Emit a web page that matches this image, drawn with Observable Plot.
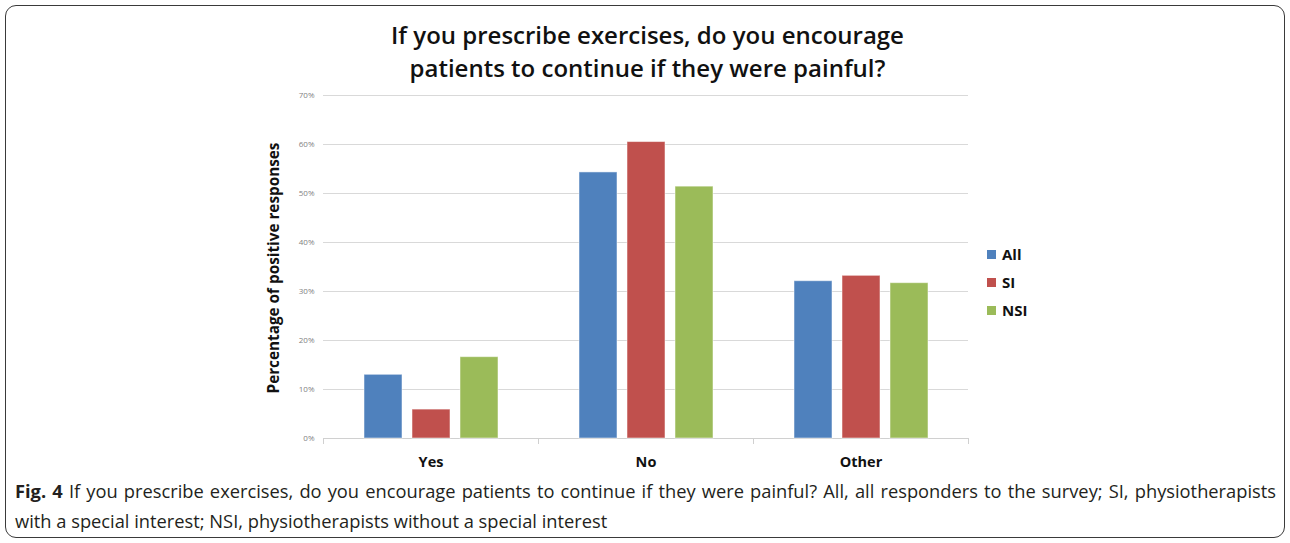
<!DOCTYPE html>
<html>
<head>
<meta charset="utf-8">
<script src="https://cdn.jsdelivr.net/npm/d3@7"></script>
<script src="https://cdn.jsdelivr.net/npm/@observablehq/plot@0.6"></script>
<style>
  html, body { margin: 0; padding: 0; background: #fff; width: 1290px; height: 543px; overflow: hidden; }
  #frame { position: absolute; left: 5px; top: 5px; width: 1278px; height: 531px; border: 1.5px solid #3a3a3a; border-radius: 11px; }
  #title { position: absolute; left: 0; width: 1295px; top: 18px; text-align: center; font-family: "Open Sans", sans-serif; font-weight: 600; font-size: 24px; line-height: 33px; color: #111; }
  #chart { position: absolute; left: 0; top: 85px; }
  #ylabel { position: absolute; left: 273px; top: 268px; transform: translate(-50%, -50%) rotate(-90deg); white-space: nowrap; font-family: "Open Sans", sans-serif; font-weight: 700; font-size: 15.3px; color: #111; }
  #legend { position: absolute; left: 987px; top: 240px; font-family: "Open Sans", sans-serif; font-weight: 700; font-size: 15px; color: #111; }
  .li { height: 28px; display: flex; align-items: center; line-height: 20px; }
  .li .sw { width: 9px; height: 9px; margin-right: 6px; }
  #caption { position: absolute; left: 15px; top: 476px; width: 1261px; font-family: "Open Sans", sans-serif; font-size: 18.3px; line-height: 30px; color: #231f20; }
  #cap1 { text-align: justify; text-align-last: justify; white-space: nowrap; }
</style>
</head>
<body>
<div id="frame"></div>
<div id="title"></div>
<div id="ylabel"></div>
<div id="chart"></div>
<div id="legend"></div>
<div id="caption"><div id="cap1"></div><div id="cap2"></div></div>
<script>
const titleLines = ["If you prescribe exercises, do you encourage", "patients to continue if they were painful?"];
const yLabel = "Percentage of positive responses";
const categories = ["Yes", "No", "Other"];
const series = ["All", "SI", "NSI"];
const colors = ["#4f81bd", "#c0504d", "#9bbb59"];
const valuesAll = [13.0, 54.3, 32.1];
const valuesSI = [5.9, 60.5, 33.2];
const valuesNSI = [16.6, 51.4, 31.7];
const yTicks = [0, 10, 20, 30, 40, 50, 60, 70];
const captionBold = "Fig. 4";
const captionLine1 = " If you prescribe exercises, do you encourage patients to continue if they were painful? All, all responders to the survey; SI, physiotherapists";
const captionLine2 = "with a special interest; NSI, physiotherapists without a special interest";

const seriesValues = [valuesAll, valuesSI, valuesNSI];
const data = [];
categories.forEach((c, i) => series.forEach((s, j) => data.push({category: c, series: s, value: seriesValues[j][i]})));

document.getElementById("title").innerHTML = titleLines.join("<br>");
document.getElementById("ylabel").textContent = yLabel;
const cap1 = document.getElementById("cap1");
const b = document.createElement("b"); b.textContent = captionBold; b.style.fontWeight = "700";
cap1.appendChild(b); cap1.appendChild(document.createTextNode(captionLine1));
document.getElementById("cap2").textContent = captionLine2;

const legend = document.getElementById("legend");
series.forEach((s, j) => {
  const row = document.createElement("div"); row.className = "li";
  const sw = document.createElement("div"); sw.className = "sw"; sw.style.background = colors[j];
  const t = document.createElement("span"); t.textContent = s;
  row.appendChild(sw); row.appendChild(t); legend.appendChild(row);
});

const chart = Plot.plot({
  width: 1290, height: 390,
  marginLeft: 322, marginRight: 322, marginTop: 10, marginBottom: 37,
  style: {background: "transparent", fontFamily: "Open Sans, sans-serif", overflow: "visible"},
  fx: {domain: categories, padding: 0, label: null},
  x: {domain: series, axis: null, paddingInner: 0.21, paddingOuter: 0.84},
  y: {domain: [0, 70], label: null},
  color: {domain: series, range: colors},
  marks: [
    Plot.gridY(yTicks, {stroke: "#d9d9d9", strokeOpacity: 1}),
    Plot.ruleY([0], {stroke: "#d0d0d0", strokeOpacity: 1}),
    Plot.barY(data, {fx: "category", x: "series", y: "value", fill: "series", stroke: "#ffffff", strokeOpacity: 0.5, strokeWidth: 1}),
    Plot.axisY(yTicks, {tickSize: 0, tickPadding: 9, fontSize: 8, fill: "#7f7f7f", tickFormat: d => d + "%", label: null}),
    Plot.axisFx({anchor: "bottom", tickSize: 0, tickPadding: 18, fontSize: 14.5, fontWeight: "bold", fill: "#111", label: null})
  ]
});

// category boundary ticks below the baseline, placed with the library's fx and y scales
try {
  const fx = chart.scale("fx");
  const y = chart.scale("y");
  const y0 = y.apply(0);
  const edges = categories.map(c => fx.apply(c));
  edges.push(fx.apply(categories[categories.length - 1]) + fx.bandwidth);
  const svg = d3.select(chart.tagName.toLowerCase() === "svg" ? chart : chart.querySelector("svg"));
  svg.append("g").attr("stroke", "#d0d0d0")
    .selectAll("line").data(edges).join("line")
    .attr("x1", d => d + 0.5).attr("x2", d => d + 0.5)
    .attr("y1", y0).attr("y2", y0 + 6);
} catch (e) { console.error(e); }

document.getElementById("chart").appendChild(chart);
</script>
</body>
</html>
